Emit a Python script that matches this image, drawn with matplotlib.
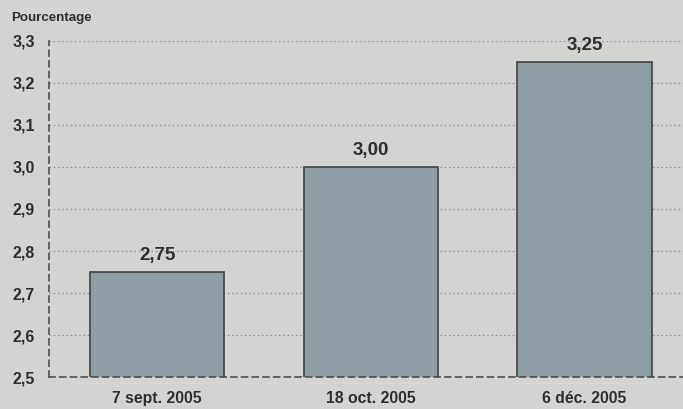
import matplotlib
matplotlib.use("Agg")
import matplotlib.pyplot as plt

dates = ["7 sept. 2005", "18 oct. 2005", "6 déc. 2005"]
rates = [2.75, 3.00, 3.25]
yticks = [2.5, 2.6, 2.7, 2.8, 2.9, 3.0, 3.1, 3.2, 3.3]

bg = "#d3d3d1"
bar_color = "#8f9ea4"
text_color = "#2e2e2e"

plt.rcParams["font.family"] = ["Liberation Sans", "DejaVu Sans"]

fig = plt.figure(figsize=(6.83, 4.09), dpi=100, facecolor=bg)
ax = fig.add_axes([0.0717, 0.078, 0.9283, 0.822])
ax.set_facecolor(bg)

xs = list(range(len(dates)))
ax.bar(xs, rates, width=0.63, bottom=0, color=bar_color,
       edgecolor="#3f4244", linewidth=1.2, zorder=3)

for x, r in zip(xs, rates):
    ax.text(x, r + 0.018, f"{r:.2f}".replace(".", ","), ha="center", va="bottom",
            fontsize=13.5, fontweight="bold", color=text_color)

ax.set_ylim(2.5, 3.3)
ax.set_xlim(-0.506, 2.46)
ax.set_yticks(yticks)
ax.set_yticklabels([f"{t:.1f}".replace(".", ",") for t in yticks],
                   fontsize=11.5, fontweight="bold", color=text_color)
ax.set_xticks(xs)
ax.set_xticklabels(dates, fontsize=11.3, fontweight="bold", color=text_color)
ax.tick_params(axis="both", length=0)
ax.tick_params(axis="x", pad=10)
ax.tick_params(axis="y", pad=10)

ax.yaxis.grid(True, linestyle=(0, (1.2, 2.2)), color="#8e8e8e", linewidth=0.9, zorder=0)
for s in ["top", "right"]:
    ax.spines[s].set_visible(False)
for s in ["left", "bottom"]:
    ax.spines[s].set_linestyle((0, (4, 3)))
    ax.spines[s].set_color("#444444")
    ax.spines[s].set_linewidth(1.1)
ax.spines["bottom"].set_zorder(4)

fig.text(0.017, 0.957, "Pourcentage", fontsize=9.6, fontweight="bold", color=text_color,
         ha="left", va="center")

fig.savefig("out.png", dpi=100, facecolor=bg)
